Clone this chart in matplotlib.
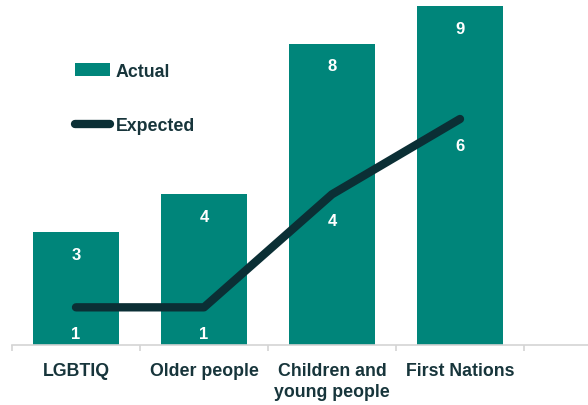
import matplotlib

matplotlib.use("Agg")
import matplotlib.pyplot as plt
import numpy as np

categories = ["LGBTIQ", "Older people", "Children and\nyoung people", "First Nations"]
actual = [3, 4, 8, 9]
expected = [1, 1, 4, 6]

BAR = "#00857a"
LINE = "#0b2f35"
TEXT = "#17353b"
AXIS = "#d4d4d4"

plt.rcParams["font.family"] = ["Liberation Sans", "DejaVu Sans"]

fig = plt.figure(figsize=(5.88, 4.06), dpi=100)
ax = fig.add_axes([0.0204, 0.1478, 0.9796, 0.835])

x = np.arange(len(categories))
bars = ax.bar(x, actual, width=0.67, color=BAR, label="Actual", zorder=2)
(line,) = ax.plot(x, expected, color=LINE, linewidth=6, solid_capstyle="round",
                  solid_joinstyle="round", label="Expected", zorder=3)

for xi, v in zip(x, actual):
    ax.annotate(str(v), (xi, v), xytext=(0, -16), textcoords="offset points",
                ha="center", va="center", color="white", fontsize=12, fontweight="bold", zorder=4)
for xi, v in zip(x, expected):
    ax.annotate(str(v), (xi, v), xytext=(0, -19), textcoords="offset points",
                ha="center", va="center", color="white", fontsize=12, fontweight="bold", zorder=4)

ax.set_xlim(-0.5, 4.0)
ax.set_ylim(0, 9)
ax.set_yticks([])
for side in ("top", "right", "left"):
    ax.spines[side].set_visible(False)
ax.spines["bottom"].set_color(AXIS)
ax.spines["bottom"].set_linewidth(1.2)

ax.set_xticks(np.arange(-0.5, 4.0, 1.0))
ax.set_xticklabels([])
ax.tick_params(axis="x", which="major", length=4, width=1.2, color=AXIS)
ax.set_xticks(x, minor=True)
ax.set_xticklabels(categories, minor=True, fontsize=12.8, fontweight="bold", color=TEXT,
                   linespacing=1.3, va="top")
ax.tick_params(axis="x", which="minor", length=0, pad=12.5)

leg = ax.legend(handles=[bars, line], loc="upper left", bbox_to_anchor=(0.081, 0.88),
                frameon=False, fontsize=12.8, labelspacing=2.1, handlelength=2.0,
                handleheight=0.68, handletextpad=0.3)
for t in leg.get_texts():
    t.set_color(TEXT)
    t.set_fontweight("bold")

fig.savefig("out.png", dpi=100)
